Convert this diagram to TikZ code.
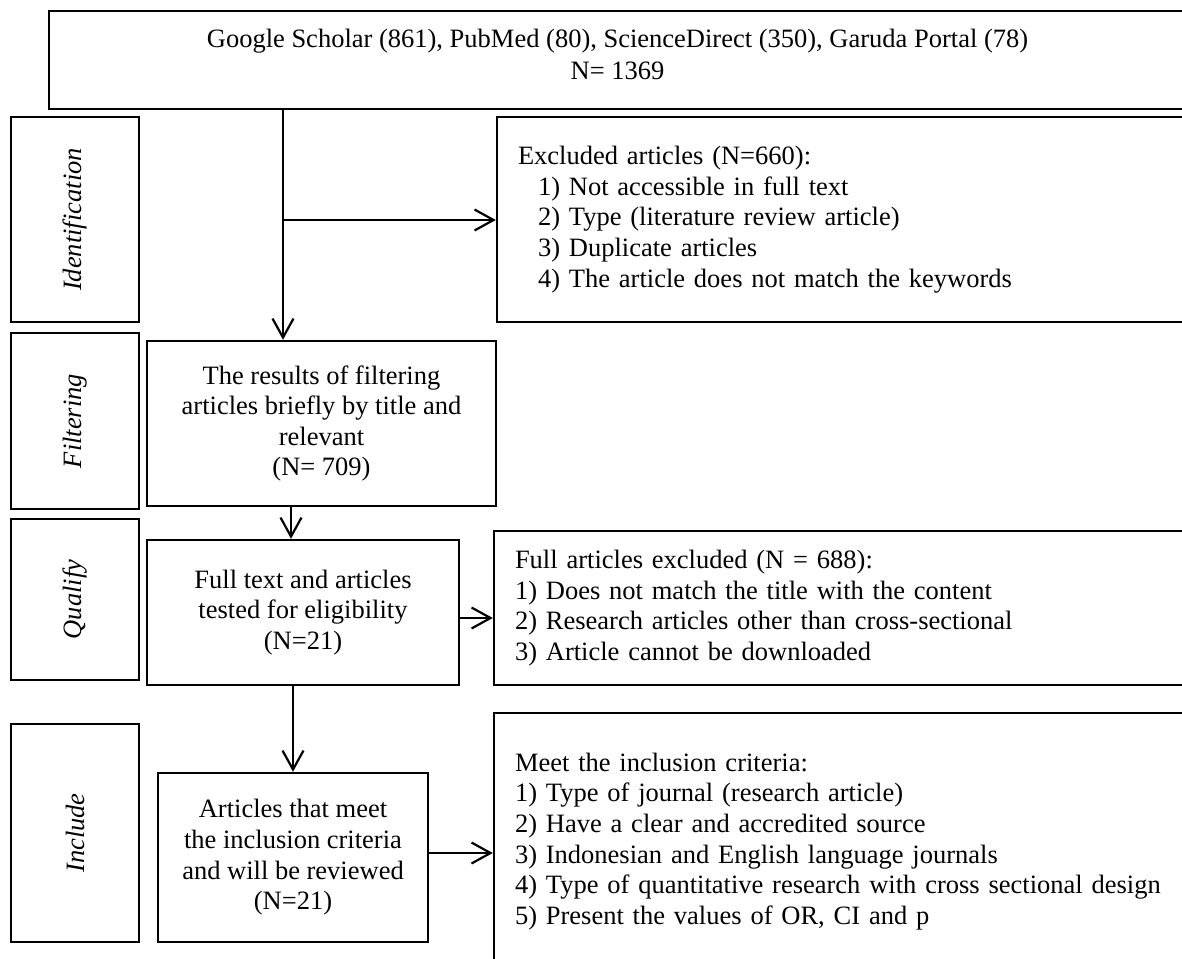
\documentclass[tikz,border=0pt]{standalone}
\usepackage{fontspec}
\setmainfont{Liberation Serif}
\usetikzlibrary{arrows.meta}
\newcommand\diagfs{\fontsize{13.25pt}{15.3pt}\selectfont}
\newcommand\diagtopfs{\fontsize{13.25pt}{16pt}\selectfont}
\begin{document}
\begin{tikzpicture}[x=0.5pt,y=-0.5pt,
  box/.style={draw, line width=1.2pt, inner sep=0pt, font=\diagfs},
  lab/.style={box, rotate=90, font=\diagfs\itshape},
  side/.style={box, align=left, inner xsep=10.5pt, inner ysep=0pt},
  mid/.style={box, align=center},
  arr/.style={line width=1.1pt, -{Straight Barb[length=9.5pt,width=10.5pt,line width=1.1pt]}}]
\path[use as bounding box] (0,0) rectangle (1182,958);
\clip (0,0) rectangle (1182,958);
\fill[white] (0,0) rectangle (1182,958);

% top source box
\node[box, minimum width=568.5pt, minimum height=49pt] (top) at (617.5,60) {};
\node[font=\diagtopfs, align=center, inner sep=0pt] (toptext) at (617.5,54)
  {Google Scholar (861), PubMed (80), ScienceDirect (350), Garuda Portal (78)\\N= 1369};

% stage labels
\node[lab, minimum width=102.5pt, minimum height=64pt] (lid) at (75,219.5) {Identification};
\node[lab, minimum width=88pt, minimum height=64pt] (lfil) at (75,421) {Filtering};
\node[lab, minimum width=80.5pt, minimum height=64pt] (lqua) at (75,599.5) {Qualify};
\node[lab, minimum width=109pt, minimum height=64pt] (linc) at (75,833) {Include};

% middle column
\node[mid, minimum width=174.5pt, minimum height=82.5pt] (fil) at (321.5,423.5)
  {The results of filtering\\articles briefly by title and\\relevant\\(N= 709)};
\node[mid, minimum width=156pt, minimum height=72.5pt] (qua) at (303,612.5)
  {Full text and articles\\tested for eligibility\\(N=21)};
\node[mid, minimum width=135pt, minimum height=84.5pt] (inc) at (293,857.5)
  {Articles that meet\\the inclusion criteria\\and will be reviewed\\(N=21)};

% right column
\node[side, minimum width=346.5pt, text width=325.5pt, minimum height=102.5pt] (excl) at (843.5,219.5)
  {Excluded articles (N=660):\\
   \hspace*{10pt}1) Not accessible in full text\\
   \hspace*{10pt}2) Type (literature review article)\\
   \hspace*{10pt}3) Duplicate articles\\
   \hspace*{10pt}4) The article does not match the keywords};
\node[side, minimum width=348pt, text width=327pt, minimum height=77pt] (fullx) at (842,608)
  {Full articles excluded (N = 688):\\
   1) Does not match the title with the content\\
   2) Research articles other than cross-sectional\\
   3) Article cannot be downloaded};
\node[side, minimum width=348pt, text width=327pt, minimum height=128.5pt] (meet) at (842,841.5)
  {Meet the inclusion criteria:\\
   1) Type of journal (research article)\\
   2) Have a clear and accredited source\\
   3) Indonesian and English language journals\\
   4) Type of quantitative research with cross sectional design\\
   5) Present the values of OR, CI and p};

% connectors
\coordinate (j1) at (283,220);
\draw[arr] (top.south -| j1) -- (fil.north -| j1);
\draw[arr] (j1) -- (excl.west |- j1);
\coordinate (j2) at (291,525);
\draw[arr] (fil.south -| j2) -- (qua.north -| j2);
\coordinate (j3) at (475,618);
\draw[arr] (qua.east |- j3) -- (fullx.west |- j3);
\draw[arr] (qua.south -| inc.north) -- (inc.north);
\coordinate (j4) at (460,853);
\draw[arr] (inc.east |- j4) -- (meet.west |- j4);
\end{tikzpicture}
\end{document}
